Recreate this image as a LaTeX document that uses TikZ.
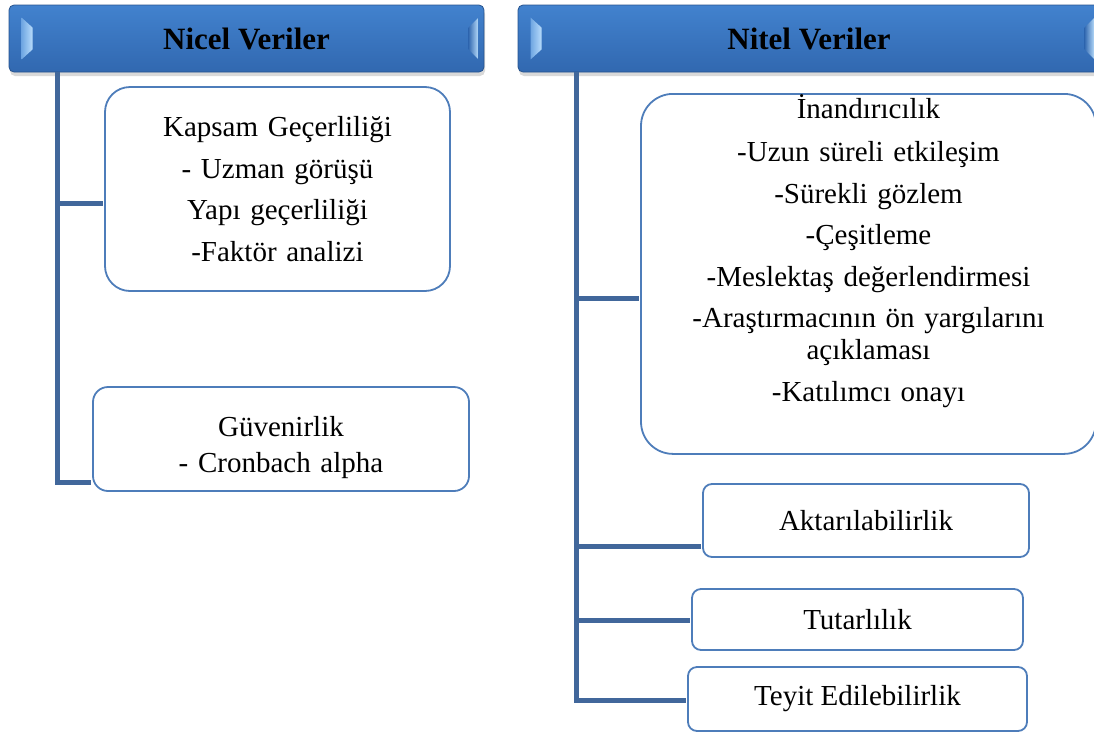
\documentclass[tikz,border=0pt]{standalone}
\usepackage{fontspec}
\setmainfont{Liberation Serif}
\usetikzlibrary{calc,shadows}

\definecolor{hdrtop}{HTML}{4282CE}
\definecolor{hdrbot}{HTML}{3168B0}
\definecolor{bevelin}{HTML}{B8DCFB}
\definecolor{bevelout}{HTML}{6FA6E2}
\definecolor{trunkblue}{HTML}{41679B}
\definecolor{boxblue}{HTML}{4E7DBA}

\tikzset{
	hdr/.style={rounded corners=5pt, draw=hdrbot!80!black, line width=0.8pt,
		top color=hdrtop, bottom color=hdrbot, minimum height=67pt,
		font=\fontsize{31}{34}\selectfont\bfseries,
		drop shadow={opacity=0.3, shadow xshift=1pt, shadow yshift=-4pt}},
	itembox/.style={draw=boxblue, line width=1.8pt, fill=white, align=center,
		inner sep=0pt, font=\fontsize{29}{32}\selectfont},
	trunk/.style={draw=trunkblue, line width=5pt, shorten >=0.9pt},
}

% light side strips of a header bar
\def\hdrbevel(#1){
	\shade[left color=bevelout, right color=bevelin] ($(#1.north west)+(13,13)$) -- ($(#1.north west)+(24,23)$) -- ($(#1.south west)+(24,-23)$) -- ($(#1.south west)+(13,-13)$) -- cycle;
	\shade[left color=hdrbot, right color=bevelin] ($(#1.north east)+(-16,23)$) -- ($(#1.north east)+(-6,13)$) -- ($(#1.south east)+(-6,-13)$) -- ($(#1.south east)+(-16,-23)$) -- cycle;
}

\begin{document}
\begin{tikzpicture}[x=1pt, y=-1pt]
			%%%%% START %%%%%
			\useasboundingbox (0,0) rectangle (1094,734);
			
			\node[hdr, minimum width=475pt] (nicel) at (246.5,38.5) {Nicel Veriler};
			\hdrbevel(nicel)
			\node[hdr, minimum width=582pt] (nitel) at (809,38.5) {Nitel Veriler};
			\hdrbevel(nitel)
			
			% left column
			\node[itembox, rounded corners=25pt, text width=330pt, minimum width=345pt, minimum height=204pt] (kapsam) at (277.5,189) {Kapsam Geçerliliği\\[9.5pt]- Uzman görüşü\\[9.5pt]Yapı geçerliliği\\[9.5pt]-Faktör analizi};
			\node[itembox, rounded corners=15pt, text width=360pt, text height=38pt, minimum width=376pt, minimum height=104pt] (guven) at (281,439) {Güvenirlik\\[4pt]- Cronbach alpha};
			
			\coordinate (lroot) at (57,72);
			\coordinate (lk) at (57,203);
			\coordinate (lend) at (57,482);
			\draw[trunk] (lroot) -- (lend) -- (lend -| guven.west);
			\draw[trunk] (lk) -- (lk -| kapsam.west);
			
			% right column
			\node[itembox, rounded corners=32pt, text width=440pt, minimum width=455pt, text height=25pt, text depth=335pt, anchor=north] (inan) at (868.5,93) {İnandırıcılık\\[11pt]-Uzun süreli etkileşim\\[9.5pt]-Sürekli gözlem\\[9.5pt]-Çeşitleme\\[9.5pt]-Meslektaş değerlendirmesi\\[9.5pt]-Araştırmacının ön yargılarını\\açıklaması\\[9.5pt]-Katılımcı onayı};
			\node[itembox, rounded corners=9pt, minimum width=326pt, minimum height=73pt] (aktar) at (866,520.5) {Aktarılabilirlik};
			\node[itembox, rounded corners=9pt, minimum width=331pt, minimum height=61pt] (tutar) at (857.5,619.5) {Tutarlılık};
			\node[itembox, rounded corners=9pt, minimum width=339pt, minimum height=64pt] (teyit) at (857.5,699) {Teyit Edilebilirlik};
			
			\coordinate (rroot) at (576,72);
			\coordinate (ri) at (576,298);
			\coordinate (ra) at (576,546);
			\coordinate (rt) at (576,620);
			\coordinate (rend) at (576,700);
			\draw[trunk] (rroot) -- (rend) -- (rend -| teyit.west);
			\draw[trunk] (ri) -- (ri -| inan.west);
			\draw[trunk] (ra) -- (ra -| aktar.west);
			\draw[trunk] (rt) -- (rt -| tutar.west);
			
			%%%%% END %%%%%
\end{tikzpicture}
\end{document}
